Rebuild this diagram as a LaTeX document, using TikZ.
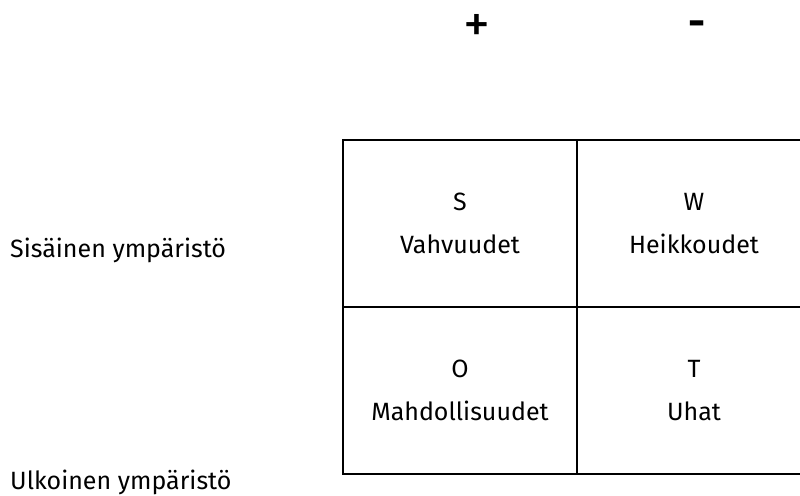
\documentclass[tikz,border=0pt]{standalone}
\usepackage{fontspec}
\setmainfont{Fira Sans}
\usetikzlibrary{positioning}
\tikzset{
  cell/.style={draw,line width=2.5pt,minimum width=234pt,minimum height=167pt,
    inner sep=0pt,outer sep=0pt,align=center,font=\fontsize{25}{43}\selectfont},
  side/.style={anchor=west,inner sep=0pt,font=\fontsize{25}{28}\selectfont},
  sign/.style={inner sep=0pt,font=\bfseries\fontsize{42}{46}\selectfont}
}
\begin{document}
\begin{tikzpicture}[x=1pt,y=-1pt]
\useasboundingbox (0,0) rectangle (800,495);
\clip (0,0) rectangle (800,495);
% SWOT grid
\node[cell] (s) at (460,223.5) {S\\Vahvuudet};
\node[cell,right=0pt of s] (w) {W\\Heikkoudet};
\node[cell,below=0pt of s] (o) {O\\Mahdollisuudet};
\node[cell,right=0pt of o] (t) {T\\Uhat};
% signs above
\node[sign,font=\fontsize{54}{58}\selectfont] (plus) at (477,28) {+};
\node[sign] (minus) at (697,29) {-};
% environment labels
\node[side] (sis) at (10,250) {Sisäinen ympäristö};
\node[side] (ulk) at (10,482) {Ulkoinen ympäristö};
\end{tikzpicture}
\end{document}
